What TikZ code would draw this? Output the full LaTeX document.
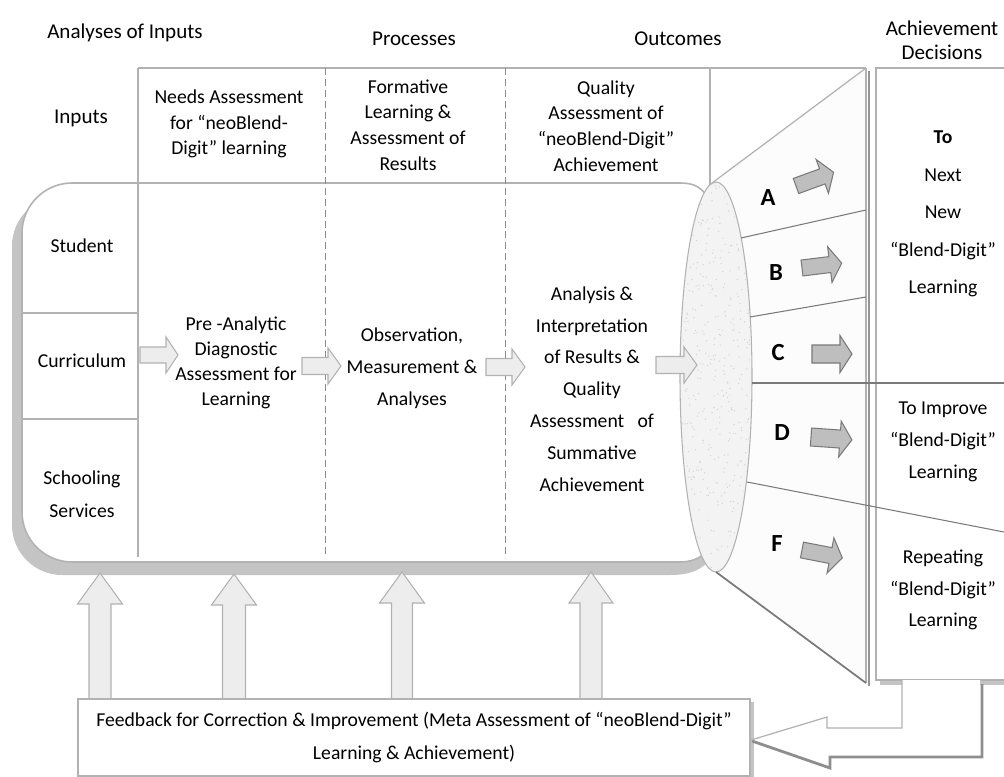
\documentclass[tikz,border=0pt]{standalone}
\usepackage{fontspec}
\setmainfont{Carlito}
\definecolor{lineGray}{HTML}{B2B2B2}
\definecolor{darkLine}{HTML}{7A7A7A}
\definecolor{shadowGray}{HTML}{C4C4C4}
\definecolor{lightFill}{HTML}{EDEDED}
\definecolor{darkFill}{HTML}{BEBEBE}
\definecolor{ellFill}{HTML}{F3F3F3}
\definecolor{panelFill}{HTML}{FCFCFC}
\definecolor{dashGray}{HTML}{8C8C8C}
\newcommand{\blkarrow}[8]{%
  \begin{scope}[shift={(#2,#3)},rotate=#4]
    \draw[#1] (0,-#6) -- ({#5-#8},-#6) -- ({#5-#8},-#7) -- (#5,0) -- ({#5-#8},#7) -- ({#5-#8},#6) -- (0,#6) -- cycle;
  \end{scope}}
\tikzset{
  thinline/.style={draw=lineGray, line width=0.9pt},
  dashline/.style={draw=dashGray, line width=0.5pt, dash pattern=on 4pt off 2.2pt},
  fanline/.style={draw=darkLine, line width=0.6pt},
  lightarrow/.style={fill=lightFill, draw=lineGray, line width=0.6pt},
  darkarrow/.style={fill=darkFill, draw=darkLine, line width=0.6pt},
  body/.style={font=\fontsize{11.2}{18.1}\selectfont, align=center, inner sep=0pt},
  tight/.style={font=\fontsize{11.2}{14.6}\selectfont, align=center, inner sep=0pt},
  title/.style={font=\fontsize{12}{13.8}\selectfont, align=center, inner sep=0pt},
  letter/.style={font=\fontsize{14}{16}\selectfont\bfseries, inner sep=0pt},
  fbbox/.style={draw=lineGray, line width=0.9pt, fill=white, inner sep=0pt, align=center,
    font=\fontsize{11.2}{18.6}\selectfont}
}
\begin{document}
\begin{tikzpicture}[x=0.02cm,y=-0.02cm]
\useasboundingbox (0,0) rectangle (1004,777);

% titles
\node[title] (tin) at (125,33) {Analyses of Inputs};
\node[title] (tpr) at (414,39) {Processes};
\node[title] (tout) at (678,39) {Outcomes};
\node[title] (tdec) at (942,40) {Achievement\\Decisions};

% fan panel
\fill[panelFill] (712,183) -- (866,68) -- (866,683) -- (716,572) -- cycle;

% main box shadow and body
\fill[shadowGray] (62,196) .. controls (35,196) and (12,218) .. (12,246) -- (12,525)
  .. controls (12,553) and (35,575) .. (62,575) -- (670,575)
  .. controls (690,575) and (700,570) .. (708,562) -- (708,400) -- (690,196) -- cycle;
\path[thinline, fill=white] (72,183) .. controls (45,183) and (22,205) .. (22,233) -- (22,512)
  .. controls (22,540) and (45,562) .. (72,562) -- (680,562)
  .. controls (692,562) and (700,558) .. (706,552) -- (706,195)
  .. controls (700,186) and (692,183) .. (680,183) -- cycle;

% table lines
\draw[thinline] (138,68) -- (866,68);
\draw[thinline] (138,68) -- (138,557);
\draw[thinline] (710,68) -- (710,186);
\draw[dashline] (325,68) -- (325,557);
\draw[dashline] (505,68) -- (505,557);
\draw[thinline] (22,313) -- (138,313);
\draw[thinline] (22,419) -- (138,419);

% ellipse with speckles
\draw[fill=ellFill, draw=lineGray, line width=0.6pt] (716,377) ellipse [x radius=36, y radius=195];
\begin{scope}
  \clip (716,377) ellipse [x radius=35, y radius=194];
  \pgfmathsetseed{7}
  \foreach \i in {1,...,420} {
    \fill[gray!35] ({716+36*rand},{377+195*rand}) circle [radius=0.7];
  }
\end{scope}

% fan panel right edge
\draw[draw=darkLine!80, line width=1.6pt] (869,71) -- (869,686);
\draw[thinline] (866,68) -- (866,683);

% right decision box
\fill[shadowGray] (880,680) rectangle (1010,685);
\draw[thinline, fill=white] (876,68) rectangle (1010,680);

% fan lines
\draw[draw=lineGray, line width=0.7pt] (712,183) -- (866,68);
\draw[fanline] (741,238) -- (866,210);
\draw[fanline] (750,317) -- (866,297);
\draw[fanline] (752,383) -- (1004,383);
\draw[fanline] (747,482) -- (1004,532);
\draw[draw=darkLine, line width=1pt] (716,572) -- (866,683);

% small light arrows in main box
\blkarrow{lightarrow}{140}{355}{0}{38}{8}{18}{12}
\blkarrow{lightarrow}{302}{366}{0}{39}{8.5}{18}{13}
\blkarrow{lightarrow}{486}{367}{0}{39}{8.5}{18}{13}
\blkarrow{lightarrow}{656}{365}{0}{41}{8.5}{18}{13}

% dark arrows
\blkarrow{darkarrow}{796}{186}{20}{40}{8}{18}{12}
\blkarrow{darkarrow}{802}{268}{7}{40}{8}{18}{12}
\blkarrow{darkarrow}{812}{354}{0}{40}{9}{18.5}{12}
\blkarrow{darkarrow}{811}{437}{-4}{41}{9}{18}{12}
\blkarrow{darkarrow}{802}{550}{-11}{41}{8}{18}{12}

% up arrows
\blkarrow{lightarrow}{100}{700}{90}{127}{11}{22.5}{31}
\blkarrow{lightarrow}{234}{700}{90}{126}{11.5}{22.5}{31}
\blkarrow{lightarrow}{402}{700}{90}{128}{10.5}{22.5}{31}
\blkarrow{lightarrow}{591}{700}{90}{128}{11}{22}{31}

% feedback box
\fill[shadowGray] (750,702) rectangle (754,777);
\node[fbbox, minimum width=13.44cm, minimum height=1.54cm] (fb) at (414,737.5)
  {Feedback for Correction \& Improvement (Meta Assessment of “neoBlend-Digit”\\Learning \& Achievement)};

% return arrow
\fill[white] (902,680) -- (902,728) -- (827,728) -- (827,717) -- (751,740) -- (828,767) -- (828,755) -- (980,755) -- (980,680) -- cycle;
\draw[draw=darkLine!85, line width=1.6pt] (752,741) -- (830,768) -- (830,757) -- (982,757) -- (982,684);
\draw[thinline, line width=0.7pt] (902,680) -- (902,728) -- (827,728) -- (827,717) -- (751,740);

% texts
\node[title] (inputs) at (81,118) {Inputs};
\node[tight] (needs) at (229,124) {Needs Assessment\\for “neoBlend-\\Digit” learning};
\node[tight] (form) at (408,125) {Formative\\Learning \&\\Assessment of\\Results};
\node[tight] (qual) at (606,126) {Quality\\Assessment of\\“neoBlend-Digit”\\Achievement};
\node[body] (student) at (82,246) {Student};
\node[body] (curr) at (82,361) {Curriculum};
\node[body, font=\fontsize{11.2}{18.7}\selectfont] (school) at (82,494) {Schooling\\Services};
\node[tight, font=\fontsize{11.2}{14.2}\selectfont] (pre) at (236,363) {Pre -Analytic\\Diagnostic\\Assessment for\\Learning};
\node[body] (obs) at (412,368) {Observation,\\Measurement \&\\Analyses};
\node[body] (ana) at (592,389) {Analysis \&\\Interpretation\\of Results \&\\Quality\\Assessment~~ of\\Summative\\Achievement};
\node[letter] (la) at (768,198) {A};
\node[letter] (lb) at (776,273) {B};
\node[letter] (lc) at (778,353) {C};
\node[letter] (ld) at (782,433) {D};
\node[letter] (lf) at (777,544) {F};
\node[body, font=\fontsize{11.2}{21.4}\selectfont] (dec1) at (943,214) {\textbf{To}\\Next\\New\\“Blend-Digit”\\Learning};
\node[body] (dec2) at (943,442) {To Improve\\“Blend-Digit”\\Learning};
\node[body] (dec3) at (943,590) {Repeating\\“Blend-Digit”\\Learning};
\end{tikzpicture}
\end{document}
